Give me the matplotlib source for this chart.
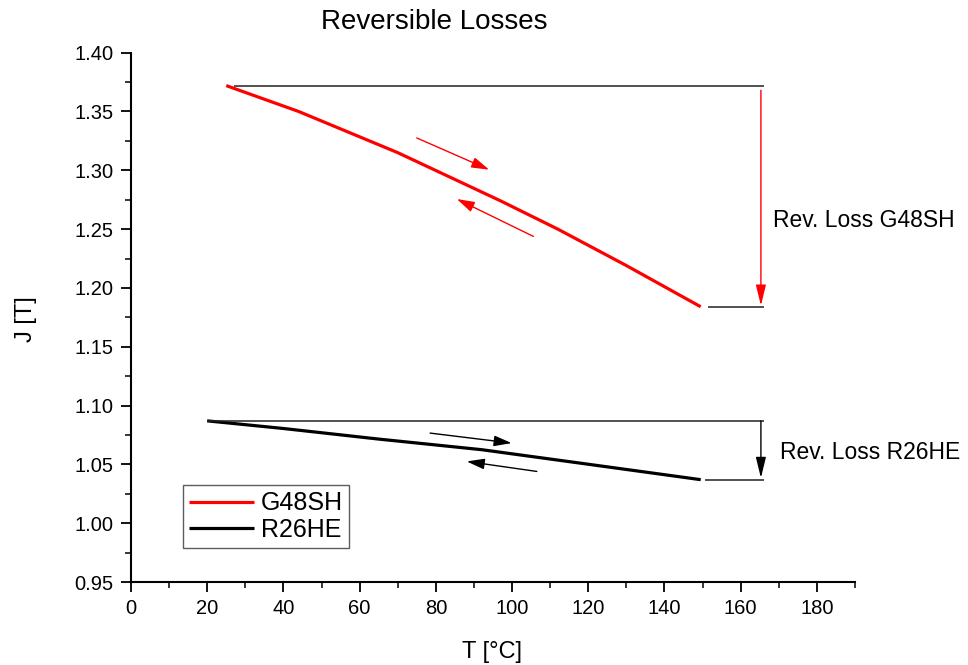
import matplotlib
matplotlib.use("Agg")
from matplotlib import pyplot as plt
from matplotlib.ticker import MultipleLocator, FormatStrFormatter


# --------------------------------------------------------------------------------------------------------------------
# data

g48_t = [25, 44, 70, 97, 112, 130, 149.5]
g48_j = [1.372, 1.350, 1.315, 1.274, 1.250, 1.219, 1.184]

r26_t = [20, 40, 65, 92, 118, 149.5]
r26_j = [1.087, 1.0805, 1.0715, 1.0625, 1.051, 1.037]

# reversible loss markers: (level, x start, x end)
g48_top = (1.372, 27, 166)
g48_bot = (1.184, 151.5, 166)
r26_top = (1.087, 20, 166)
r26_bot = (1.0365, 150.5, 166)
loss_x = 165.3

# direction arrows: (tail, head)
g48_arrows = [((75.0, 1.3275), (94.0, 1.3005)), ((105.6, 1.2438), (85.5, 1.2756))]
r26_arrows = [((78.5, 1.0766), (99.9, 1.0681)), ((106.5, 1.0440), (88.1, 1.0525))]

x_ticks = [0, 20, 40, 60, 80, 100, 120, 140, 160, 180]
y_ticks = [0.95, 1.00, 1.05, 1.10, 1.15, 1.20, 1.25, 1.30, 1.35, 1.40]


# --------------------------------------------------------------------------------------------------------------------

plt.rcParams['font.family'] = ['Liberation Sans', 'DejaVu Sans']

fig = plt.figure(figsize=(9.68, 6.65), dpi=100)
ax = fig.add_axes([0.1353, 0.1248, 0.7480, 0.7960])

ax.plot(g48_t, g48_j, color='#ff0000', lw=2.3, label='G48SH', solid_capstyle='butt', solid_joinstyle='round')
ax.plot(r26_t, r26_j, color='black', lw=2.3, label='R26HE', solid_capstyle='butt', solid_joinstyle='round')

# level lines...
for level, x0, x1 in (g48_top, g48_bot, r26_top, r26_bot):
    ax.hlines(level, x0, x1, color='#222222', lw=1.1)

# loss arrows...
ax.annotate('', xy=(loss_x, g48_bot[0] + 0.001), xytext=(loss_x, g48_top[0] - 0.004),
            arrowprops=dict(arrowstyle='-|>,head_length=0.9,head_width=0.22', color='#ff0000', lw=1.0,
                            mutation_scale=14, shrinkA=0, shrinkB=0))
ax.annotate('', xy=(loss_x, r26_bot[0] + 0.002), xytext=(loss_x, r26_top[0]),
            arrowprops=dict(arrowstyle='-|>,head_length=0.9,head_width=0.22', color='black', lw=1.0,
                            mutation_scale=14, shrinkA=0, shrinkB=0))

for (tail, head) in g48_arrows:
    ax.annotate('', xy=head, xytext=tail,
                arrowprops=dict(arrowstyle='-|>,head_length=0.9,head_width=0.27', color='#ff0000', lw=1.0,
                                mutation_scale=12, shrinkA=0, shrinkB=0))

for (tail, head) in r26_arrows:
    ax.annotate('', xy=head, xytext=tail,
                arrowprops=dict(arrowstyle='-|>,head_length=0.9,head_width=0.27', color='black', lw=1.0,
                                mutation_scale=12, shrinkA=0, shrinkB=0))

ax.text(168.5, 1.2577, 'Rev. Loss G48SH', fontsize=16.5, va='center', ha='left')
ax.text(170.3, 1.0605, 'Rev. Loss R26HE', fontsize=16.5, va='center', ha='left')

# axes...
ax.set_xlim(0, 190)
ax.set_ylim(0.95, 1.40)

ax.set_xticks(x_ticks)
ax.set_yticks(y_ticks)
ax.xaxis.set_minor_locator(MultipleLocator(10))
ax.yaxis.set_minor_locator(MultipleLocator(0.025))
ax.yaxis.set_major_formatter(FormatStrFormatter('%.2f'))

for side in ('top', 'right'):
    ax.spines[side].set_visible(False)

for side in ('left', 'bottom'):
    ax.spines[side].set_linewidth(1.5)

ax.tick_params(which='major', direction='out', length=7.5, width=1.3, labelsize=14.5, pad=5)
ax.tick_params(which='minor', direction='out', length=4, width=1.1)

ax.set_facecolor('none')

fig.text(434 / 968, 1 - 22 / 665, 'Reversible Losses', fontsize=20, ha='center', va='center')
fig.text(492 / 968, 1 - 652 / 665, 'T [°C]', fontsize=17, ha='center', va='center')
fig.text(26 / 968, 1 - 319 / 665, 'J [T]', fontsize=17, ha='center', va='center', rotation=90)

leg = ax.legend(loc='lower left', bbox_to_anchor=(0.072, 0.064), fontsize=18, frameon=True, fancybox=False,
                handlelength=2.6, handletextpad=0.25, borderpad=0.25, labelspacing=0.1, borderaxespad=0)
leg.get_frame().set_edgecolor('#333333')
leg.get_frame().set_linewidth(1.0)

fig.savefig('out.png', dpi=100, facecolor='white')
